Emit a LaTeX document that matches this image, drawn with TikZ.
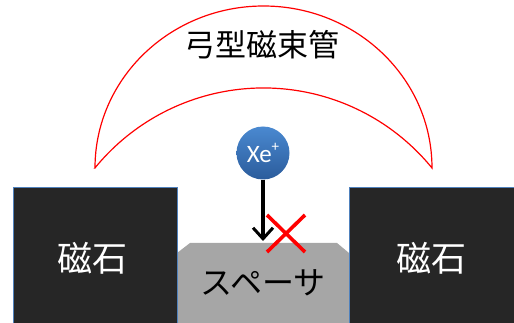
\documentclass[tikz,border=0pt]{standalone}
\usepackage{fontspec}
\setmainfont{Carlito}
\newfontfamily\jpfont{Noto Sans CJK JP}
\usetikzlibrary{arrows.meta}
\definecolor{magnetfill}{HTML}{262626}
\definecolor{magnetedge}{HTML}{4F81BD}
\definecolor{spacerfill}{HTML}{A6A6A6}
\definecolor{ionTop}{HTML}{4A89D0}
\definecolor{ionBottom}{HTML}{2B5C9C}
\tikzset{
  magnet/.style={draw=magnetedge, line width=0.8pt, fill=magnetfill},
  magnetlabel/.style={text=white, font=\jpfont\fontsize{35}{40}\selectfont},
  fluxtube/.style={draw=red, line width=1.2pt},
  ion/.style={circle, minimum size=53pt, inner sep=0pt, top color=ionTop, bottom color=ionBottom, shading angle=0, text=white, font=\fontsize{25}{28}\selectfont},
  path arrow/.style={line width=3.2pt, -{Straight Barb[length=11pt, width=20pt, line width=3pt]}},
  blocked/.style={draw=red, line width=3.6pt},
}
\begin{document}
\begin{tikzpicture}[x=1pt, y=-1pt]
  \useasboundingbox (0,0) rectangle (514,323);
  \clip (0,0) rectangle (514,323);

  % spacer between the magnets
  \fill[spacerfill] (165,253) -- (177,253) -- (190,243) -- (337,243) -- (349,253) -- (360,253) -- (360,330) -- (165,330) -- cycle;
  \node[font=\jpfont\fontsize{32}{36}\selectfont] (spacer) at (263,283) {スペーサ};

  % magnets
  \path[magnet] (13,187) rectangle (177,330);
  \path[magnet] (349,187) rectangle (520,330);
  \node[magnetlabel] (magL) at (92,258) {磁石};
  \node[magnetlabel] (magR) at (431,258) {磁石};

  % arched flux tube: outer half-ellipse, inner shallow circular arc
  % (radii carry units, so the angles are the usual upward ones)
  \coordinate (arcL) at (95,168);
  \coordinate (arcR) at (432,168);
  \draw[fluxtube] (arcL) arc[start angle=180, end angle=0, x radius=168.5pt, y radius=162pt]
                  arc[start angle=39.2, end angle=140.8, radius=217.5pt] -- cycle;
  \node[font=\jpfont\fontsize{31}{36}\selectfont] (title) at (262,45) {弓型磁束管};

  % incoming ion
  \node[ion] (xe) at (263,153) {Xe\raisebox{0.42em}{\fontsize{15}{17}\selectfont +}};
  \coordinate (hit) at (263,241);
  \draw[path arrow] (xe.south) -- (hit);

  % blocked mark
  \coordinate (xa) at (267,215);
  \coordinate (xb) at (305,252);
  \coordinate (xc) at (305,215);
  \coordinate (xd) at (267,252);
  \draw[blocked] (xa) -- (xb);
  \draw[blocked] (xc) -- (xd);
\end{tikzpicture}
\end{document}
